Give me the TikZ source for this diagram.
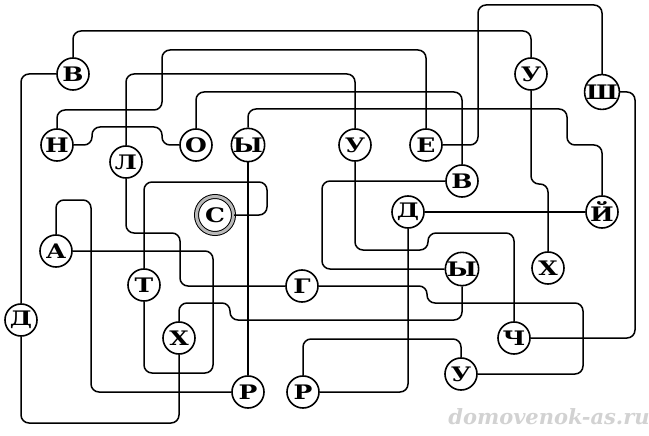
\documentclass[tikz,border=0pt]{standalone}
\usepackage{fontspec}
\setmainfont{DejaVu Serif}
\newcommand\wide[1]{\scalebox{1.25}[1]{#1}}

\begin{document}
\begin{tikzpicture}[x=1pt, y=-1pt,
    letter/.style={circle, draw, line width=1.6pt, minimum size=32pt, inner sep=0pt, font=\bfseries\fontsize{20}{20}\selectfont},
    start/.style={letter, line width=1pt, double=gray!55, double distance=3pt, minimum size=37pt},
    wire/.style={line width=1.5pt, rounded corners=8pt}]

    \useasboundingbox (0,0) rectangle (649,436);

    % letters in de cirkels
    \node[start] (s) at (215,215) {\wide{С}};
    \node[letter] (t) at (144,285) {\wide{Т}};
    \node[letter] (a) at (56,251) {\wide{А}};
    \node[letter] (r1) at (248,392) {\wide{Р}};
    \node[letter] (y1) at (248,145) {\wide{Ы}};
    \node[letter] (j) at (602,212) {\wide{Й}};
    \node[letter] (d2) at (408,212) {\wide{Д}};
    \node[letter] (r2) at (303,392) {\wide{Р}};
    \node[letter] (u3) at (461,374) {\wide{У}};
    \node[letter] (g) at (302,286) {\wide{Г}};
    \node[letter] (l) at (126,162) {\wide{Л}};
    \node[letter] (u2) at (355,145) {\wide{У}};
    \node[letter] (ch) at (514,338) {\wide{Ч}};
    \node[letter] (sh) at (602,92) {\wide{Ш}};
    \node[letter] (e) at (426,145) {\wide{Е}};
    \node[letter] (n) at (57,145) {\wide{Н}};
    \node[letter] (o) at (196,145) {\wide{О}};
    \node[letter] (v2) at (462,181) {\wide{В}};
    \node[letter] (y2) at (462,269) {\wide{Ы}};
    \node[letter] (x1) at (179,338) {\wide{Х}};
    \node[letter] (d1) at (21,320) {\wide{Д}};
    \node[letter] (v1) at (73,74) {\wide{В}};
    \node[letter] (u1) at (531,74) {\wide{У}};
    \node[letter] (x2) at (548,268) {\wide{Х}};

    % verbindingen
    \draw[wire] (s.east) -| (267,182) -| (t.north);
    \draw[wire] (t.south) |- (213,373) |- (a.east);
    \draw[wire] (a.north) |- (91,200) |- (r1.west);
    \draw[wire] (r1.north) -- (y1.south);
    \draw[wire] (y1.north) |- (567,109) |- (602,145) -- (j.north);
    \draw[wire] (j.west) -- (d2.east);
    \draw[wire] (d2.south) |- (r2.east);
    \draw[wire] (r2.north) |- (461,339) -- (u3.north);
    \draw[wire] (u3.east) -| (583,303) -| (427,286) -- (g.east);
    \draw[wire] (g.west) -| (180,233) -| (l.south);
    \draw[wire] (l.north) |- (355,74) -- (u2.north);
    \draw[wire] (u2.south) |- (428,250) |- (514,233) -- (ch.north);
    \draw[wire] (ch.east) -| (635,92) -- (sh.east);
    \draw[wire] (sh.north) |- (478,5) |- (e.east);
    \draw[wire] (e.north) |- (162,50) |- (57,110) -- (n.north);
    \draw[wire] (n.east) -| (92,127) -| (162,145) -- (o.west);
    \draw[wire] (o.north) |- (462,92) -- (v2.north);
    \draw[wire] (v2.west) -| (322,269) -- (y2.west);
    \draw[wire] (y2.south) |- (230,320) |- (179,303) -- (x1.north);
    \draw[wire] (x1.south) |- (21,423) -- (d1.south);
    \draw[wire] (d1.north) |- (v1.west);
    \draw[wire] (v1.north) |- (531,31) -- (u1.north);
    \draw[wire] (u1.south) |- (548,184) -- (x2.north);

    % watermerk
    \node[text=gray!35, font=\bfseries\itshape\fontsize{21}{21}\selectfont] (site) at (549,417) {domovenok-as.ru};
\end{tikzpicture}
\end{document}
